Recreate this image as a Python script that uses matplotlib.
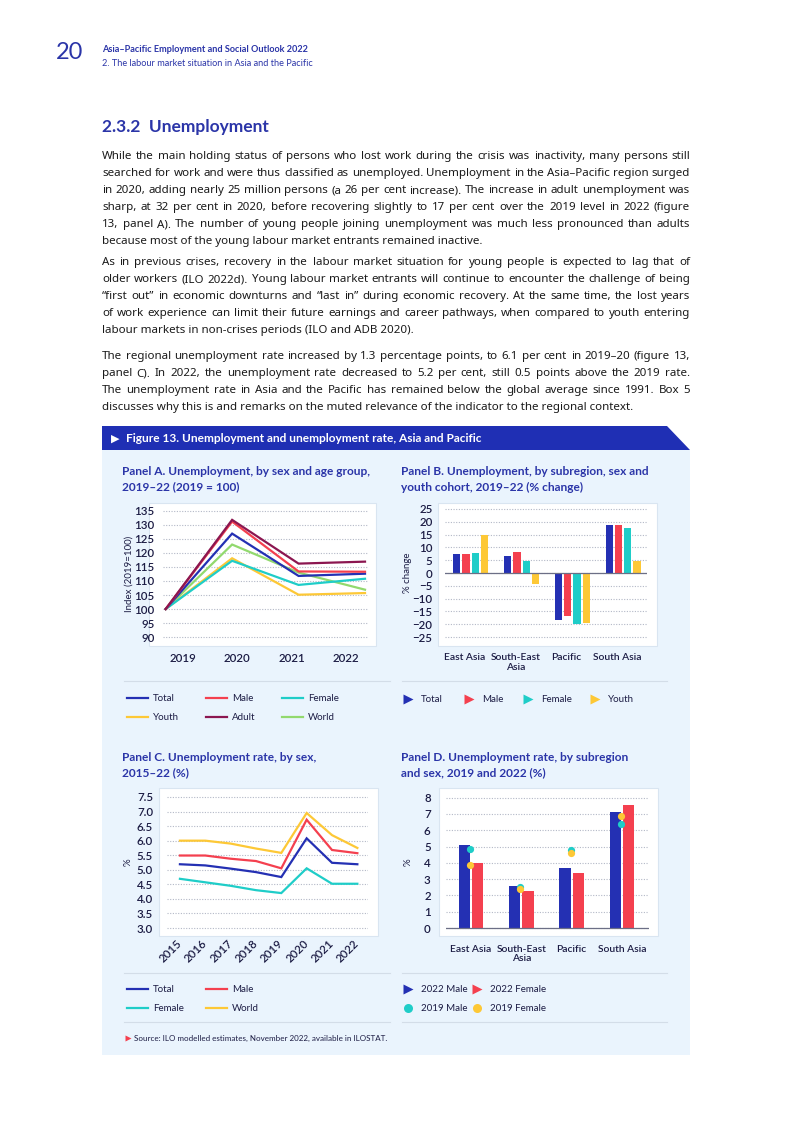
import numpy as np
import matplotlib
matplotlib.use('Agg')
import matplotlib.pyplot as plt
from matplotlib.patches import Rectangle, Polygon
from matplotlib.lines import Line2D

W, H = 793, 1122

# ---- data ----
years_a = ['2019', '2020', '2021', '2022']
idx_total = [100, 126.9, 111.8, 112.6]
idx_male = [100, 131.2, 113.4, 113.3]
idx_female = [100, 117.2, 108.6, 110.8]
idx_youth = [100, 118.1, 105.1, 105.7]
idx_adult = [100, 131.8, 116.2, 116.9]
idx_world = [100, 123.0, 113.0, 106.9]

regions = ['East Asia', 'South-East\nAsia', 'Pacific', 'South Asia']
chg_total = [7.5, 6.8, -18.5, 18.7]
chg_male = [7.5, 8.3, -16.9, 18.7]
chg_female = [8.0, 4.7, -19.9, 17.4]
chg_youth = [15.0, -4.3, -19.5, 4.7]

years_c = [2015, 2016, 2017, 2018, 2019, 2020, 2021, 2022]
rate_total = [5.19, 5.15, 5.04, 4.92, 4.75, 6.08, 5.24, 5.19]
rate_male = [5.49, 5.49, 5.38, 5.30, 5.05, 6.72, 5.68, 5.57]
rate_female = [4.69, 4.57, 4.45, 4.30, 4.20, 5.05, 4.52, 4.52]
rate_world = [6.00, 6.00, 5.90, 5.73, 5.58, 6.95, 6.19, 5.75]

male_2022 = [5.11, 2.60, 3.70, 7.10]
female_2022 = [4.00, 2.29, 3.39, 7.55]
male_2019 = [4.85, 2.54, 4.79, 6.38]
female_2019 = [3.87, 2.37, 4.60, 6.87]

# colours
BLUE = '#2430b3'
RED = '#f4404f'
CYAN = '#1fcdc8'
YELLOW = '#fdc836'
MAROON = '#8b1650'
GREEN = '#92d96e'
HEAD = '#2b35a8'
INK = '#1c1c44'
BOXBG = '#eaf4fd'
GRID = '#b3b8c6'
HFONT = ['Lato', 'DejaVu Sans']

plt.rcParams['font.family'] = ['Noto Sans', 'DejaVu Sans']

fig = plt.figure(figsize=(W / 100, H / 100), dpi=100)
page = fig.add_axes([0, 0, 1, 1], zorder=0)
page.set_xlim(0, W)
page.set_ylim(H, 0)
page.axis('off')
renderer = fig.canvas.get_renderer()


def px_axes(l, t, r, b):
    ax = fig.add_axes([l / W, 1 - b / H, (r - l) / W, (b - t) / H], zorder=2)
    ax.set_facecolor('none')
    for s in ax.spines.values():
        s.set_visible(False)
    ax.tick_params(length=0, colors=INK, labelsize=8.3)
    ax.grid(axis='y', color=GRID, linestyle=(0, (1, 1.4)), linewidth=0.8)
    ax.set_axisbelow(True)
    return ax


def font_ticks(ax):
    for lb in ax.get_xticklabels() + ax.get_yticklabels():
        lb.set_family(HFONT)
        lb.set_fontweight('semibold')


def text_width(s, **kw):
    t = page.text(0, 0, s, **kw)
    w = t.get_window_extent(renderer).width
    t.remove()
    return w


def justified(lines, y0, x0=102, x1=690, step=17, **kw):
    for i, line in enumerate(lines):
        y = y0 + i * step
        if i == len(lines) - 1:
            page.text(x0, y, line, va='baseline', **kw)
            continue
        words = line.split(' ')
        widths = [text_width(w, **kw) for w in words]
        gap = (x1 - x0 - sum(widths)) / (len(words) - 1)
        x = x0
        for w, wd in zip(words, widths):
            page.text(x, y, w, va='baseline', **kw)
            x += wd + gap


# ---- page header ----
page.text(56, 59, '20', fontsize=17, color=HEAD, va='baseline', family=HFONT)
page.text(102, 51.5, 'Asia–Pacific Employment and Social Outlook 2022', fontsize=6.6,
          color=HEAD, fontweight='bold', va='baseline', family=HFONT)
page.text(102, 66, '2. The labour market situation in Asia and the Pacific', fontsize=6.6,
          color=HEAD, va='baseline', family=HFONT)
page.text(102, 131.5, '2.3.2  Unemployment', fontsize=12.5, color=HEAD, fontweight='bold',
          va='baseline', family=HFONT)

par1 = [
    'While the main holding status of persons who lost work during the crisis was inactivity, many persons still',
    'searched for work and were thus classified as unemployed. Unemployment in the Asia–Pacific region surged',
    'in 2020, adding nearly 25 million persons (a 26 per cent increase). The increase in adult unemployment was',
    'sharp, at 32 per cent in 2020, before recovering slightly to 17 per cent over the 2019 level in 2022 (figure',
    '13, panel A). The number of young people joining unemployment was much less pronounced than adults',
    'because most of the young labour market entrants remained inactive.',
]
par2 = [
    'As in previous crises, recovery in the labour market situation for young people is expected to lag that of',
    'older workers (ILO 2022d). Young labour market entrants will continue to encounter the challenge of being',
    '“first out” in economic downturns and “last in” during economic recovery. At the same time, the lost years',
    'of work experience can limit their future earnings and career pathways, when compared to youth entering',
    'labour markets in non-crises periods (ILO and ADB 2020).',
]
par3 = [
    'The regional unemployment rate increased by 1.3 percentage points, to 6.1 per cent in 2019–20 (figure 13,',
    'panel C). In 2022, the unemployment rate decreased to 5.2 per cent, still 0.5 points above the 2019 rate.',
    'The unemployment rate in Asia and the Pacific has remained below the global average since 1991. Box 5',
    'discusses why this is and remarks on the muted relevance of the indicator to the regional context.',
]
# fit the body size so the widest full line just fills the column
widest = max(text_width(l, fontsize=8) for p in (par1, par2, par3) for l in p[:-1])
body = dict(fontsize=8 * 590 / widest, color='#1a1a1a')
justified(par1, 159, **body)
justified(par2, 265, **body)
justified(par3, 359, **body)

# ---- figure box ----
page.add_patch(Rectangle((102, 450), 588, 605, facecolor=BOXBG, edgecolor='none'))
page.add_patch(Polygon([(102, 426), (667, 426), (690, 450), (102, 450)],
                       closed=True, facecolor='#1f2fb4', edgecolor='none'))
page.text(111, 442, '▶', fontsize=8, color='white', va='baseline', family='DejaVu Sans')
page.text(126, 442, 'Figure 13. Unemployment and unemployment rate, Asia and Pacific',
          fontsize=8.6, color='white', fontweight='bold', va='baseline', family=HFONT)

title = dict(fontsize=8.6, color=HEAD, fontweight='bold', va='baseline', family=HFONT)
page.text(122, 474.5, 'Panel A. Unemployment, by sex and age group,', **title)
page.text(122, 490.5, '2019–22 (2019 = 100)', **title)
page.text(401, 474.5, 'Panel B. Unemployment, by subregion, sex and', **title)
page.text(401, 490.5, 'youth cohort, 2019–22 (% change)', **title)
page.text(122, 760.5, 'Panel C. Unemployment rate, by sex,', **title)
page.text(122, 776.5, '2015–22 (%)', **title)
page.text(401, 760.5, 'Panel D. Unemployment rate, by subregion', **title)
page.text(401, 776.5, 'and sex, 2019 and 2022 (%)', **title)

# white plot boxes
for (l, t, r, b) in [(149, 503, 376, 646), (438, 503, 657, 646),
                     (159, 788, 378, 936), (439, 788, 658, 936)]:
    page.add_patch(Rectangle((l, t), r - l, b - t, facecolor='white',
                             edgecolor='#d9e5f1', linewidth=0.8))

# dividers
for y in (681, 973, 1022):
    page.plot([124, 390], [y, y], color='#d3dde8', lw=0.8)
    page.plot([402, 667], [y, y], color='#d3dde8', lw=0.8)

# y labels
ylab = dict(fontsize=7, color=INK, rotation=90, ha='center', va='center', family=HFONT)
page.text(129, 574, 'Index (2019=100)', **ylab)
page.text(408, 573, '% change', **ylab)
page.text(128, 862, '%', **ylab)
page.text(408, 862, '%', **ylab)

# ---- Panel A ----
axA = px_axes(163, 505, 368, 641)
xa = np.arange(len(years_a))
for vals, c in [(idx_world, GREEN), (idx_youth, YELLOW), (idx_female, CYAN),
                (idx_total, BLUE), (idx_male, RED), (idx_adult, MAROON)]:
    axA.plot(xa, vals, color=c, lw=1.6, solid_joinstyle='miter')
axA.set_xlim(-0.04, 3.045)
axA.set_ylim(88.6, 137.1)
axA.set_yticks(np.arange(90, 136, 5))
axA.set_xticks(xa * 0.817 + 0.26)
axA.set_xticklabels(years_a)
axA.tick_params(axis='x', pad=9)
axA.tick_params(axis='y', pad=6)
font_ticks(axA)

# ---- Panel B ----
axB = px_axes(445, 505, 647, 641)
xb = np.arange(len(regions))
bw, pitch = 0.144, 0.183
for k, (vals, c) in enumerate([(chg_total, BLUE), (chg_male, RED),
                               (chg_female, CYAN), (chg_youth, YELLOW)]):
    axB.bar(xb + (k - 1.5) * pitch, vals, width=bw, color=c, zorder=2)
axB.axhline(0, color='#6c6f86', lw=0.9, zorder=3)
axB.set_xlim(-0.506, 3.47)
axB.set_ylim(-26.56, 26.56)
axB.set_yticks(np.arange(-25, 26, 5))
axB.set_xticks(xb - 0.12)
axB.set_xticklabels(regions, fontsize=7.4, linespacing=1.1)
axB.tick_params(axis='x', pad=9)
axB.tick_params(axis='y', pad=9)
font_ticks(axB)

# ---- Panel C ----
axC = px_axes(167, 791, 368, 932)
for vals, c in [(rate_female, CYAN), (rate_total, BLUE), (rate_male, RED),
                (rate_world, YELLOW)]:
    axC.plot(years_c, vals, color=c, lw=1.6, solid_joinstyle='miter')
axC.set_xlim(2014.49, 2022.42)
axC.set_ylim(2.863, 7.706)
axC.set_yticks(np.arange(3.0, 7.6, 0.5))
axC.set_yticklabels([f'{v:.1f}' for v in np.arange(3.0, 7.6, 0.5)])
axC.set_xticks(years_c)
axC.set_xticklabels([str(y) for y in years_c], rotation=45, ha='right',
                    va='center', rotation_mode='anchor')
axC.tick_params(axis='x', pad=7)
axC.tick_params(axis='y', pad=10)
font_ticks(axC)

# ---- Panel D ----
axD = px_axes(446, 791, 649, 932)
xd = np.arange(len(regions))
axD.bar(xd - 0.132, male_2022, width=0.225, color=BLUE, zorder=2)
axD.bar(xd + 0.132, female_2022, width=0.225, color=RED, zorder=2)
axD.plot(xd - 0.02, male_2019, 'o', color=CYAN, ms=5.2, mec='none', zorder=4)
axD.plot(xd - 0.02, female_2019, 'o', color=YELLOW, ms=5.2, mec='none', zorder=4)
axD.axhline(0, color='#6c6f86', lw=0.9, zorder=3)
axD.set_xlim(-0.497, 3.54)
axD.set_ylim(-0.245, 8.41)
axD.set_yticks(np.arange(0, 9, 1))
axD.set_xticks(xd)
axD.set_xticklabels(regions, fontsize=7.4, linespacing=1.1)
axD.tick_params(axis='x', pad=9)
axD.tick_params(axis='y', pad=11)
font_ticks(axD)

# ---- legends ----
leg = dict(fontsize=7, color=INK, va='center', family=HFONT)


def line_key(x, y, c, label):
    page.add_line(Line2D([x, x + 21], [y, y], color=c, lw=1.6))
    page.text(x + 26, y, label, **leg)


def marker_key(x, y, c, m, label, ms=7):
    page.plot([x], [y], m, color=c, ms=ms, mec='none')
    page.text(x + 13, y, label, **leg)


line_key(127, 698, BLUE, 'Total')
line_key(206, 698, RED, 'Male')
line_key(282, 698, CYAN, 'Female')
line_key(127, 717, YELLOW, 'Youth')
line_key(206, 717, MAROON, 'Adult')
line_key(282, 717, GREEN, 'World')

marker_key(408, 699, BLUE, '>', 'Total')
marker_key(469, 699, RED, '>', 'Male')
marker_key(528, 699, CYAN, '>', 'Female')
marker_key(595, 699, YELLOW, '>', 'Youth')

line_key(127, 989, BLUE, 'Total')
line_key(206, 989, RED, 'Male')
line_key(127, 1008, CYAN, 'Female')
line_key(206, 1008, YELLOW, 'World')

marker_key(408, 989, BLUE, '>', '2022 Male')
marker_key(477, 989, RED, '>', '2022 Female')
marker_key(408, 1008, CYAN, 'o', '2019 Male', ms=6.5)
marker_key(477, 1008, YELLOW, 'o', '2019 Female', ms=6.5)

page.plot([127.5], [1038], '>', color=RED, ms=3.8, mec='none')
page.text(134, 1038, 'Source: ILO modelled estimates, November 2022, available in ILOSTAT.',
          fontsize=5.8, color=INK, va='center', family=HFONT)

fig.savefig('out.png', dpi=100, facecolor='white')
